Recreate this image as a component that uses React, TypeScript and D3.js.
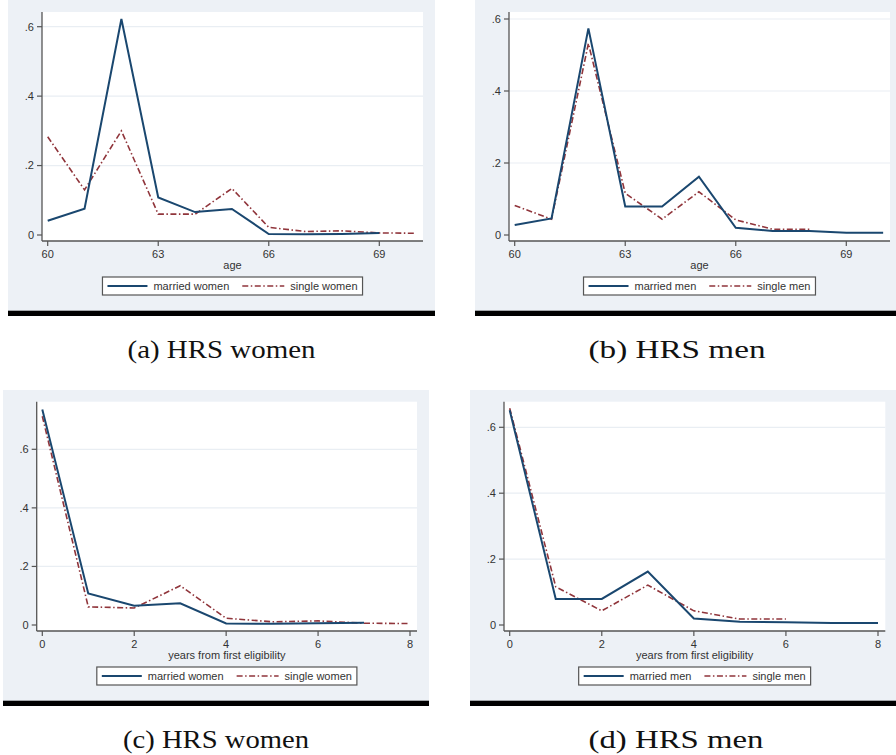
import { useEffect, useRef } from "react"
import * as d3 from "d3"

// x values
const AGES = [60, 61, 62, 63, 64, 65, 66, 67, 68, 69, 70]
const YEARS = [0, 1, 2, 3, 4, 5, 6, 7, 8]
const AGE_TICKS = [60, 63, 66, 69]
const YEAR_TICKS = [0, 2, 4, 6, 8]
const Y_TICKS = [0, 0.2, 0.4, 0.6]
const Y_TICK_LABELS = ["0", ".2", ".4", ".6"]

// (a) / (b) hazard by age
const MARRIED_WOMEN_AGE = [0.041, 0.076, 0.622, 0.108, 0.066, 0.075, 0.003, 0.002, 0.003, 0.006]
const SINGLE_WOMEN_AGE = [0.283, 0.13, 0.3, 0.06, 0.06, 0.134, 0.022, 0.01, 0.012, 0.006, 0.005]
const MARRIED_MEN_AGE = [0.028, 0.046, 0.574, 0.079, 0.079, 0.162, 0.02, 0.011, 0.011, 0.006, 0.006]
const SINGLE_MEN_AGE = [0.082, 0.044, 0.532, 0.116, 0.044, 0.12, 0.042, 0.016, 0.016]

// (c) / (d) hazard by years from first eligibility
const MARRIED_WOMEN_YRS = [0.736, 0.108, 0.066, 0.074, 0.005, 0.004, 0.006, 0.008]
const SINGLE_WOMEN_YRS = [0.713, 0.062, 0.058, 0.134, 0.023, 0.011, 0.014, 0.006, 0.005]
const MARRIED_MEN_YRS = [0.652, 0.079, 0.079, 0.162, 0.02, 0.01, 0.008, 0.006, 0.006]
const SINGLE_MEN_YRS = [0.658, 0.116, 0.043, 0.121, 0.043, 0.018, 0.018]

const CAPTIONS = ["(a) HRS women", "(b) HRS men", "(c) HRS women", "(d) HRS men"]
const X_TITLES = ["age", "age", "years from first eligibility", "years from first eligibility"]
const LEGENDS = [
  ["married women", "single women"],
  ["married men", "single men"],
  ["married women", "single women"],
  ["married men", "single men"],
]

const NAVY = "#1a476f"
const MAROON = "#90353b"
const BG = "#edf1f6"
const FONT = "'Liberation Sans', Arial, sans-serif"
const DASH = "6,2.5,1.5,2.5"

// panel geometry (not data)
const PANELS = [
  { bg: [8, 0, 435, 310], plot: [42, 12, 423, 241], xr: [47.7, 379.3], yr: [235, 26.7], cap: [221.5, 358, 188] },
  { bg: [475, 0, 896, 310], plot: [509, 12, 890, 241], xr: [514.7, 846.3], yr: [235, 19], cap: [677, 358, 177] },
  { bg: [3, 390, 429, 700], plot: [36.7, 401.7, 417, 631], xr: [42.3, 410], yr: [625, 449.3], cap: [216, 748, 186] },
  { bg: [470, 390, 896, 700], plot: [504, 401.7, 885.3, 631], xr: [509.7, 878], yr: [625, 427.3], cap: [676, 748, 175] },
]

const SERIES = [
  { x: AGES, m: MARRIED_WOMEN_AGE, s: SINGLE_WOMEN_AGE, ticks: AGE_TICKS, dom: [60, 69] },
  { x: AGES, m: MARRIED_MEN_AGE, s: SINGLE_MEN_AGE, ticks: AGE_TICKS, dom: [60, 69] },
  { x: YEARS, m: MARRIED_WOMEN_YRS, s: SINGLE_WOMEN_YRS, ticks: YEAR_TICKS, dom: [0, 8] },
  { x: YEARS, m: MARRIED_MEN_YRS, s: SINGLE_MEN_YRS, ticks: YEAR_TICKS, dom: [0, 8] },
]

export default function App() {
  const svgRef = useRef<SVGSVGElement>(null)

  useEffect(() => {
    if (!svgRef.current) return
    const svg = d3.select(svgRef.current)
    svg.selectAll("*").remove()

    PANELS.forEach((p, i) => {
      const ser = SERIES[i]
      const [bx0, by0, bx1, by1] = p.bg
      const [px0, py0, px1, py1] = p.plot
      const g = svg.append("g")

      g.append("rect").attr("x", bx0).attr("y", by0).attr("width", bx1 - bx0).attr("height", by1 - by0).attr("fill", BG)
      g.append("rect").attr("x", bx0).attr("y", by1).attr("width", bx1 - bx0).attr("height", 1).attr("fill", "#a4a7ab")
      g.append("rect").attr("x", bx0).attr("y", by1 + 1).attr("width", bx1 - bx0).attr("height", 5).attr("fill", "#000")
      g.append("rect").attr("x", px0).attr("y", py0).attr("width", px1 - px0).attr("height", py1 - py0).attr("fill", "#fff")

      const x = d3.scaleLinear().domain(ser.dom).range(p.xr)
      const y = d3.scaleLinear().domain([0, 0.6]).range(p.yr)

      // grid
      g.selectAll(".grid")
        .data(Y_TICKS.filter((t) => t > 0))
        .join("line")
        .attr("x1", px0).attr("x2", px1)
        .attr("y1", (d) => y(d)).attr("y2", (d) => y(d))
        .attr("stroke", "#e9eef3").attr("stroke-width", 1.2)

      // axes
      const axisColor = "#555"
      g.append("line").attr("x1", px0).attr("x2", px0).attr("y1", py0).attr("y2", py1).attr("stroke", axisColor).attr("stroke-width", 1.3)
      g.append("line").attr("x1", px0).attr("x2", px1).attr("y1", py1).attr("y2", py1).attr("stroke", axisColor).attr("stroke-width", 1.3)

      Y_TICKS.forEach((t, k) => {
        g.append("line").attr("x1", px0 - 5).attr("x2", px0).attr("y1", y(t)).attr("y2", y(t)).attr("stroke", axisColor).attr("stroke-width", 1.2)
        g.append("text").attr("x", px0 - 8).attr("y", y(t)).attr("dy", "0.35em").attr("text-anchor", "end")
          .attr("font-family", FONT).attr("font-size", 11).attr("fill", "#333").text(Y_TICK_LABELS[k])
      })
      ser.ticks.forEach((t) => {
        g.append("line").attr("x1", x(t)).attr("x2", x(t)).attr("y1", py1).attr("y2", py1 + 5).attr("stroke", axisColor).attr("stroke-width", 1.2)
        g.append("text").attr("x", x(t)).attr("y", py1 + 17).attr("text-anchor", "middle")
          .attr("font-family", FONT).attr("font-size", 11).attr("fill", "#333").text(t)
      })
      g.append("text").attr("x", (px0 + px1) / 2).attr("y", py1 + 27.5).attr("text-anchor", "middle")
        .attr("font-family", FONT).attr("font-size", 11).attr("fill", "#333").text(X_TITLES[i])

      // lines
      const line = d3.line<number>().x((_, j) => x(ser.x[j])).y((d) => y(d))
      g.append("path").attr("d", line(ser.s)).attr("fill", "none").attr("stroke", MAROON)
        .attr("stroke-width", 1.6).attr("stroke-dasharray", DASH)
      g.append("path").attr("d", line(ser.m)).attr("fill", "none").attr("stroke", NAVY).attr("stroke-width", 2)

      // legend
      const lg = g.append("g")
      const t1 = lg.append("text").attr("font-family", FONT).attr("font-size", 11).attr("fill", "#333").text(LEGENDS[i][0])
      const t2 = lg.append("text").attr("font-family", FONT).attr("font-size", 11).attr("fill", "#333").text(LEGENDS[i][1])
      const w1 = (t1.node() as SVGTextElement).getComputedTextLength()
      const w2 = (t2.node() as SVGTextElement).getComputedTextLength()
      const boxW = 5 + 40 + 6 + w1 + 13 + 42 + 6 + w2 + 5
      const lx = (px0 + px1) / 2 - boxW / 2
      const ly = py1 + 36
      const cy = ly + 9
      lg.insert("rect", "text").attr("x", lx).attr("y", ly).attr("width", boxW).attr("height", 18)
        .attr("fill", "#fff").attr("stroke", "#555").attr("stroke-width", 1.2)
      lg.append("line").attr("x1", lx + 5).attr("x2", lx + 45).attr("y1", cy).attr("y2", cy).attr("stroke", NAVY).attr("stroke-width", 2)
      t1.attr("x", lx + 51).attr("y", cy).attr("dy", "0.35em")
      const l2 = lx + 51 + w1 + 13
      lg.append("line").attr("x1", l2).attr("x2", l2 + 42).attr("y1", cy).attr("y2", cy).attr("stroke", MAROON)
        .attr("stroke-width", 1.6).attr("stroke-dasharray", DASH)
      t2.attr("x", l2 + 48).attr("y", cy).attr("dy", "0.35em")

      // caption
      const [cx, cyb, cw] = p.cap
      svg.append("text").attr("x", cx - cw / 2).attr("y", cyb).attr("font-family", "'Liberation Serif', 'Times New Roman', serif")
        .attr("font-size", 26).attr("fill", "#111").attr("textLength", cw).attr("lengthAdjust", "spacingAndGlyphs")
        .text(CAPTIONS[i])
    })
  }, [])

  return (
    <svg ref={svgRef} width={896} height={755} style={{ position: "absolute", left: 0, top: 0, background: "#fff" }} />
  )
}
